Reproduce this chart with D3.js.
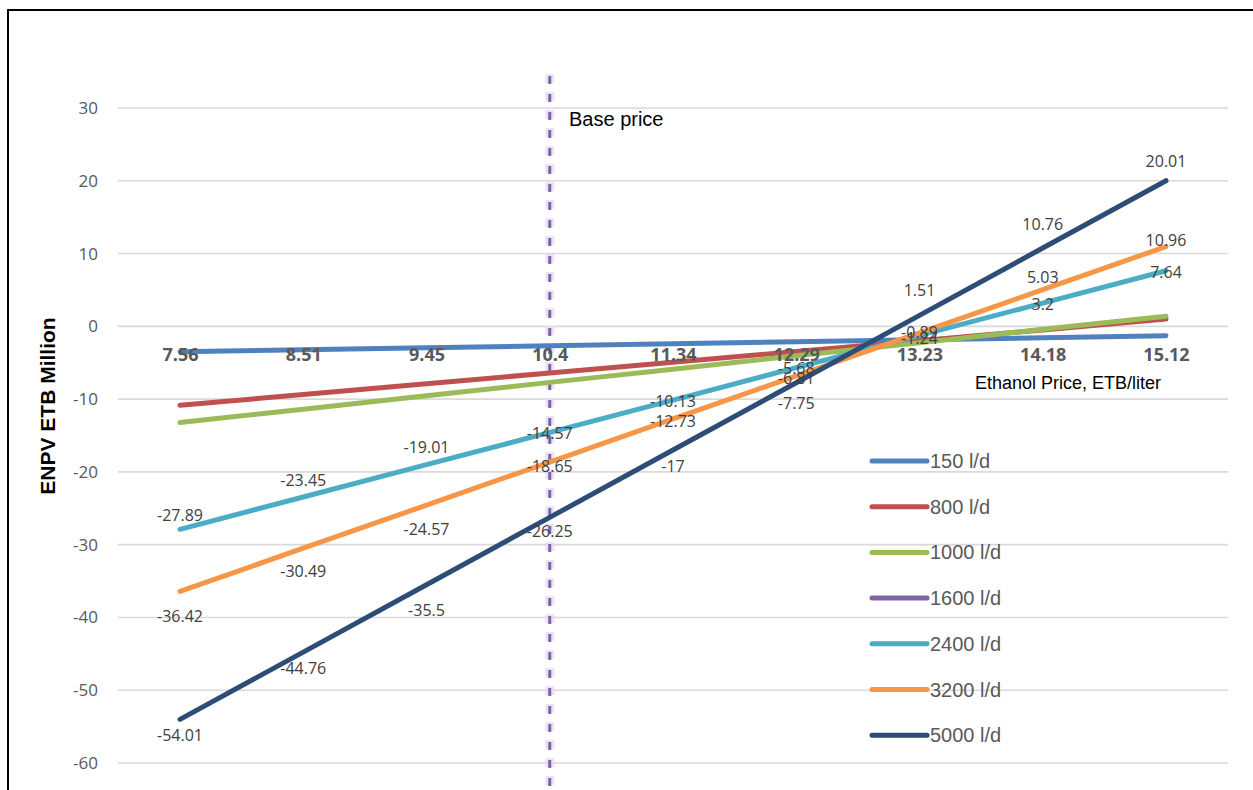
<!DOCTYPE html>
<html>
<head>
<meta charset="utf-8">
<script src="https://cdn.jsdelivr.net/npm/d3@7/dist/d3.min.js"></script>
<style>
  html, body { margin: 0; padding: 0; background: #fff; }
  svg { display: block; }
</style>
</head>
<body>
<svg id="chart" width="1253" height="790"></svg>
<script>
// Ethanol price categories (ETB/liter)
const prices = ["7.56", "8.51", "9.45", "10.4", "11.34", "12.29", "13.23", "14.18", "15.12"];

// ENPV (ETB million) per plant capacity
const cap150  = [-3.50, -3.22, -2.95, -2.67, -2.40, -2.12, -1.85, -1.57, -1.30];
const cap800  = [-10.85, -9.37, -7.89, -6.41, -4.93, -3.45, -1.97, -0.49, 1.00];
const cap1000 = [-13.20, -11.40, -9.55, -7.70, -5.90, -4.05, -2.25, -0.40, 1.40];
const cap1600 = [];
const cap2400 = [-27.89, -23.45, -19.01, -14.57, -10.13, -5.68, -1.24, 3.2, 7.64];
const cap3200 = [-36.42, -30.49, -24.57, -18.65, -12.73, -6.81, -0.89, 5.03, 10.96];
const cap5000 = [-54.01, -44.76, -35.5, -26.25, -17, -7.75, 1.51, 10.76, 20.01];

const seriesNames = ["150 l/d", "800 l/d", "1000 l/d", "1600 l/d", "2400 l/d", "3200 l/d", "5000 l/d"];
const seriesValues = [cap150, cap800, cap1000, cap1600, cap2400, cap3200, cap5000];
const labelledSeries = ["2400 l/d", "3200 l/d", "5000 l/d"];

const yTicks = [30, 20, 10, 0, -10, -20, -30, -40, -50, -60];
const basePrice = "10.4";

// ---- styling / placement ----
const colors = {
  "150 l/d": "#4F81BD", "800 l/d": "#C0504D", "1000 l/d": "#9BBB59", "1600 l/d": "#8064A2",
  "2400 l/d": "#4BACC6", "3200 l/d": "#F79646", "5000 l/d": "#2C4D75"
};
// vertical nudge (px) of each value label from its point
const labelNudge = {
  "2400 l/d": [-14, -17, -17, 1, 1, 1, 3, 1, 2],
  "3200 l/d": [25, 23, 24, 4, 2, 3, 0, -12, -6],
  "5000 l/d": [16, 16, 26, 14, 16, 21, -25, -24, -19]
};

const svg = d3.select("#chart");

// outer frame
svg.append("rect")
  .attr("x", 8).attr("y", 10).attr("width", 1300).attr("height", 900)
  .attr("fill", "none").attr("stroke", "#000").attr("stroke-width", 2);

const x = d3.scalePoint().domain(prices).range([180, 1166]);
const y = d3.scaleLinear().domain([-60, 30]).range([763, 108]);
const gridLeft = 118, gridRight = 1228;

// horizontal gridlines
svg.append("g").selectAll("line").data(yTicks).join("line")
  .attr("x1", gridLeft).attr("x2", gridRight)
  .attr("y1", d => y(d)).attr("y2", d => y(d))
  .attr("stroke", "#d9d9d9").attr("stroke-width", 1.6);

// y axis tick labels
const yAxis = d3.axisLeft(y).tickValues(yTicks).tickSize(0).tickPadding(0).tickFormat(d => String(d));
const gy = svg.append("g").attr("transform", "translate(98,0)").call(yAxis);
gy.select(".domain").remove();
gy.selectAll("text")
  .attr("font-family", "'Open Sans', sans-serif").attr("font-size", 17)
  .attr("fill", "#595959");

// base price marker
const bx = x(basePrice);
svg.append("line")
  .attr("x1", bx).attr("x2", bx).attr("y1", 74).attr("y2", 795)
  .attr("stroke", "#e6dcf2").attr("stroke-width", 9).attr("stroke-dasharray", "9 9")
  .attr("stroke-opacity", 0.8);
svg.append("line")
  .attr("x1", bx).attr("x2", bx).attr("y1", 76).attr("y2", 795)
  .attr("stroke", "#7d62a8").attr("stroke-width", 3).attr("stroke-dasharray", "8 10");
svg.append("text")
  .attr("x", 569).attr("y", 126)
  .attr("font-family", "'Liberation Sans', Arial, sans-serif")
  .attr("font-size", 20).attr("fill", "#000")
  .text("Base price");

// series lines
const line = d3.line().x((d, i) => x(prices[i])).y(d => y(d));
const series = seriesNames.map((name, k) => ({ name, values: seriesValues[k] }));

svg.append("g").selectAll("path").data(series.filter(s => s.values.length)).join("path")
  .attr("d", s => line(s.values))
  .attr("fill", "none")
  .attr("stroke", s => colors[s.name])
  .attr("stroke-width", 5)
  .attr("stroke-linecap", "round")
  .attr("stroke-linejoin", "round");

// category labels sit just below the zero line
const xAxis = d3.axisBottom(x).tickSize(0).tickPadding(0);
const gx = svg.append("g").attr("transform", `translate(0,${y(0) + 35})`).call(xAxis);
gx.select(".domain").remove();
gx.selectAll("text")
  .attr("font-family", "'Open Sans', sans-serif").attr("font-size", 18)
  .attr("font-weight", "bold").attr("fill", "#595959").attr("dy", "0");

// axis titles
svg.append("text")
  .attr("transform", "translate(55,406) rotate(-90)")
  .attr("text-anchor", "middle")
  .attr("font-family", "'Liberation Sans', Arial, sans-serif").attr("font-weight", "bold")
  .attr("font-size", 21).attr("fill", "#000")
  .text("ENPV ETB Million");

svg.append("text")
  .attr("x", 975).attr("y", 389)
  .attr("font-family", "'Liberation Sans', Arial, sans-serif")
  .attr("font-size", 18).attr("fill", "#000")
  .text("Ethanol Price, ETB/liter");

// value labels
const labels = [];
series.filter(s => labelledSeries.includes(s.name)).forEach(s => {
  s.values.forEach((v, i) => labels.push({ name: s.name, v, i }));
});
svg.append("g").selectAll("text").data(labels).join("text")
  .attr("x", d => x(prices[d.i]))
  .attr("y", d => y(d.v) + labelNudge[d.name][d.i])
  .attr("dy", "0.35em")
  .attr("text-anchor", "middle")
  .attr("font-family", "'Open Sans', sans-serif").attr("font-size", 16)
  .attr("fill", "#404040")
  .text(d => d.v);

// legend
const legend = svg.append("g").selectAll("g").data(seriesNames).join("g")
  .attr("transform", (d, i) => `translate(872,${461 + i * 45.7})`);
legend.append("line")
  .attr("x1", 0).attr("x2", 55)
  .attr("stroke", d => colors[d]).attr("stroke-width", 5).attr("stroke-linecap", "round");
legend.append("text")
  .attr("x", 58).attr("dy", "0.35em")
  .attr("font-family", "'Liberation Sans', Arial, sans-serif")
  .attr("font-size", 20).attr("fill", "#595959")
  .text(d => d);
</script>
</body>
</html>
